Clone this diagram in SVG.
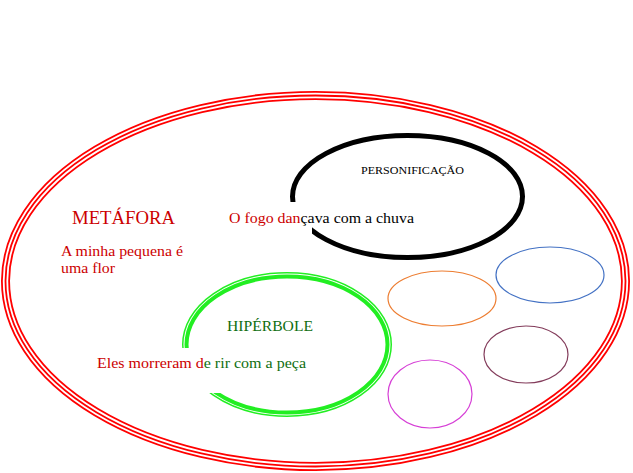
<svg xmlns="http://www.w3.org/2000/svg" width="633" height="473" viewBox="0 0 633 473">
<style>
.red{fill:#cc0000;}
.dg{fill:#0f6e0f;}
.blk{fill:#000000;}
.small{fill:none;stroke-width:1.2;}
.t{font-family:Liberation Serif, Times New Roman, Times, Tinos, Noto Serif, DejaVu Serif, FreeSerif, serif;}
</style>
<rect x="0" y="0" width="633" height="473" fill="#ffffff"/>
<g id="outer-ellipse">
<ellipse cx="315.5" cy="281" rx="310" ry="185.5" fill="none" stroke="#ff0000" stroke-width="9"/>
<ellipse cx="315.5" cy="281" rx="310" ry="185.5" fill="none" stroke="#ffffff" stroke-width="5.4"/>
<ellipse cx="315.5" cy="281" rx="310" ry="185.5" fill="none" stroke="#ff0000" stroke-width="1.8"/>
</g>
<g id="metafora">
<text class="t red" x="72" y="224" font-size="18" textLength="103" lengthAdjust="spacingAndGlyphs">METÁFORA</text>
<text class="t red" x="61" y="256" font-size="15.5" textLength="122" lengthAdjust="spacingAndGlyphs">A minha pequena é</text>
<text class="t red" x="61" y="273" font-size="15.5" textLength="54" lengthAdjust="spacingAndGlyphs">uma flor</text>
</g>
<g id="personificacao">
<ellipse cx="407.5" cy="196.5" rx="115" ry="61" fill="none" stroke="#000000" stroke-width="5"/>
<rect x="225" y="202" width="87" height="34" fill="#ffffff"/>
<text class="t blk" x="361" y="174" font-size="11" textLength="103" lengthAdjust="spacingAndGlyphs">PERSONIFICAÇÃO</text>
<text class="t" x="229" y="223" font-size="15.5" textLength="185" lengthAdjust="spacingAndGlyphs"><tspan class="red">O fogo dan</tspan><tspan class="blk">çava com a chuva</tspan></text>
</g>
<g id="hiperbole">
<ellipse cx="287" cy="344.5" rx="104.25" ry="71.75" fill="none" stroke="#22ee22" stroke-width="1.5"/>
<ellipse cx="287" cy="344.5" rx="100.5" ry="68" fill="none" stroke="#22ee22" stroke-width="4"/>
<rect x="90" y="348" width="225" height="45" fill="#ffffff"/>
<text class="t dg" x="227" y="331" font-size="15.5" textLength="86" lengthAdjust="spacingAndGlyphs">HIPÉRBOLE</text>
<text class="t" x="97" y="368" font-size="15.5" textLength="209" lengthAdjust="spacingAndGlyphs"><tspan class="red">Eles morreram d</tspan><tspan class="dg">e rir com a peça</tspan></text>
</g>
<g id="ellipse-orange"><ellipse class="small" cx="442" cy="298.5" rx="54" ry="27.5" stroke="#ed7d31"/></g>
<g id="ellipse-blue"><ellipse class="small" cx="550" cy="275" rx="54" ry="28" stroke="#4472c4"/></g>
<g id="ellipse-brown"><ellipse class="small" cx="526" cy="354.5" rx="42" ry="28.5" stroke="#833c5b"/></g>
<g id="ellipse-magenta"><ellipse class="small" cx="430" cy="394" rx="42" ry="34" stroke="#d63fd6"/></g>
</svg>
